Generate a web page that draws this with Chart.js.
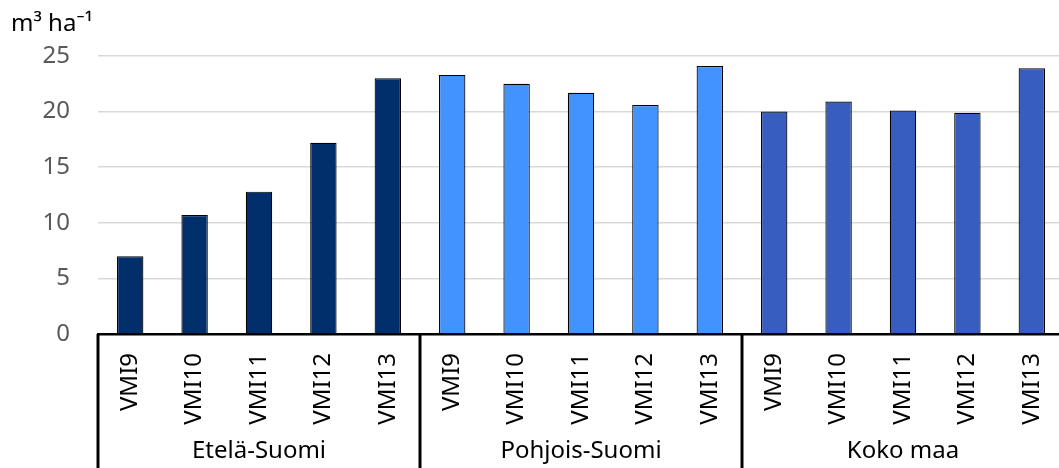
<!DOCTYPE html>
<html>
<head>
<meta charset="utf-8">
<script src="https://cdn.jsdelivr.net/npm/chart.js@4/dist/chart.umd.min.js"></script>
<style>
  html, body { margin: 0; padding: 0; background: #fff; overflow: hidden; width: 1059px; height: 468px; }
  #wrap { position: absolute; left: 0; top: 0; width: 1064px; height: 468px; }
</style>
</head>
<body>
<div id="wrap"><canvas id="c"></canvas></div>
<script>
// ---- data ----
const groups = ['Etelä-Suomi', 'Pohjois-Suomi', 'Koko maa'];
const inventories = ['VMI9', 'VMI10', 'VMI11', 'VMI12', 'VMI13'];
const etelaSuomi = [7.0, 10.7, 12.8, 17.2, 23.0];
const pohjoisSuomi = [23.3, 22.5, 21.7, 20.6, 24.1];
const kokoMaa = [20.0, 20.9, 20.1, 19.9, 23.9];
const groupColors = ['#002f6b', '#4393fe', '#385dc0'];
const unitLabel = 'm³ ha⁻¹';
const yMax = 25;
const yStep = 5;

// ---- build library structures ----
const groupValues = [etelaSuomi, pohjoisSuomi, kokoMaa];
const labels = [];
const values = [];
const colors = [];
groups.forEach((g, gi) => {
  inventories.forEach((inv, ii) => {
    labels.push(inv);
    values.push(groupValues[gi][ii]);
    colors.push(groupColors[gi]);
  });
});

const FONT = '"Noto Sans", "Open Sans", sans-serif';

const groupPlugin = {
  id: 'groupAxis',
  afterDraw(chart) {
    const ctx = chart.ctx;
    const x = chart.scales.x;
    const area = chart.chartArea;
    const n = inventories.length;
    const half = (x.getPixelForValue(1) - x.getPixelForValue(0)) / 2;
    ctx.save();
    // separators
    ctx.strokeStyle = '#000';
    ctx.lineWidth = 3;
    for (let gi = 0; gi <= groups.length; gi++) {
      const px = gi < groups.length
        ? x.getPixelForValue(gi * n) - half
        : x.getPixelForValue(gi * n - 1) + half;
      ctx.beginPath();
      ctx.moveTo(px, area.bottom);
      ctx.lineTo(px, chart.height);
      ctx.stroke();
    }
    // group labels
    ctx.fillStyle = '#000';
    ctx.font = '24px ' + FONT;
    ctx.textAlign = 'center';
    ctx.textBaseline = 'middle';
    groups.forEach((g, gi) => {
      const a = x.getPixelForValue(gi * n) - half;
      const b = x.getPixelForValue(gi * n + n - 1) + half;
      ctx.fillText(g, (a + b) / 2, 451);
    });
    // unit label
    ctx.textAlign = 'left';
    ctx.textBaseline = 'alphabetic';
    ctx.fillText(unitLabel, 11, 31);
    ctx.restore();
  }
};

new Chart(document.getElementById('c'), {
  type: 'bar',
  data: {
    labels: labels,
    datasets: [{
      data: values,
      backgroundColor: colors,
      borderColor: '#000',
      borderWidth: 1.2,
      barPercentage: 0.41,
      categoryPercentage: 1.0
    }]
  },
  options: {
    responsive: true,
    maintainAspectRatio: false,
    animation: false,
    layout: { padding: { top: 56, left: 0, right: 0, bottom: 0 } },
    plugins: {
      legend: { display: false },
      tooltip: { enabled: false }
    },
    scales: {
      x: {
        offset: true,
        grid: { display: false, drawTicks: false },
        border: { display: true, color: '#000', width: 2.5 },
        ticks: {
          color: '#000',
          font: { size: 24, family: FONT },
          minRotation: 90,
          maxRotation: 90,
          padding: 19,
          autoSkip: false
        },
        afterFit(scale) {
          scale.height = 134;
          scale.paddingLeft = 0;
          scale.paddingRight = 0;
        }
      },
      y: {
        min: 0,
        max: yMax,
        grid: { color: '#d9d9d9', lineWidth: 1.5, drawTicks: false },
        border: { display: false },
        ticks: {
          stepSize: yStep,
          color: '#595959',
          font: { size: 24, family: FONT },
          padding: 28
        },
        afterFit(scale) { scale.width = 98; }
      }
    }
  },
  plugins: [groupPlugin]
});
</script>
</body>
</html>
